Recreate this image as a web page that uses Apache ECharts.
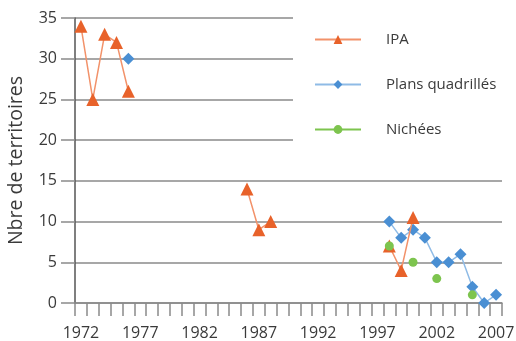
<!DOCTYPE html>
<html><head><meta charset="utf-8">
<script src="https://cdn.jsdelivr.net/npm/echarts@6/dist/echarts.min.js"></script>
<style>html,body{margin:0;padding:0;background:#fff}#c{width:516px;height:341px}</style>
</head><body><div id="c"></div>
<script>
const years = [];
for (let y = 1972; y <= 2007; y++) years.push(String(y));
// values by year (null = no data)
const ipaYears   = [1972,1973,1974,1975,1976,1986,1987,1988,1998,1999,2000];
const ipaValues  = [34,  25,  33,  32,  26,  14,  9,   10,  7,   4,   10.5];
const plansYears  = [1976,1998,1999,2000,2001,2002,2003,2004,2005,2006,2007];
const plansValues = [30,  10,  8,   9,   8,   5,   5,   6,   2,   0,   1];
const nichYears  = [1998,2000,2002,2005];
const nichValues = [7,   5,   3,   1];
const yTicks = [0,5,10,15,20,25,30,35];

function toSeries(ys, vs){
  const arr = years.map(() => null);
  ys.forEach((y,i) => { arr[years.indexOf(String(y))] = vs[i]; });
  return arr;
}
const font = '"Open Sans", sans-serif';
const chart = echarts.init(document.getElementById('c'));
chart.setOption({
  animation:false,
  grid:{left:75,right:14,top:18,bottom:38,outerBoundsMode:'none',containLabel:false},
  xAxis:{type:'category',data:years,boundaryGap:true,
    axisLine:{lineStyle:{color:'#8a8a8a',width:1.5}},
    axisTick:{show:true,interval:0,length:13,lineStyle:{color:'#8a8a8a',width:1.5}},
    axisLabel:{interval:4,margin:22,fontSize:16,color:'#3a3a3a',fontFamily:font},
    splitLine:{show:false}},
  yAxis:{type:'value',min:yTicks[0],max:yTicks[yTicks.length-1],interval:5,
    name:'Nbre de territoires',nameLocation:'middle',nameGap:49,
    nameTextStyle:{fontSize:19.5,color:'#3a3a3a',fontFamily:font},
    axisLine:{show:true,lineStyle:{color:'#555',width:1.5}},
    axisTick:{show:true,length:14,lineStyle:{color:'#8a8a8a',width:1.5}},
    axisLabel:{margin:18,fontSize:16,color:'#3a3a3a',fontFamily:font},
    splitLine:{lineStyle:{color:'#8a8a8a',width:1.5}}},
  legend:{orient:'vertical',left:293,top:5,
    padding:[27,22,32,21],backgroundColor:'#fff',itemGap:30,
    itemWidth:46,itemHeight:11,
    textStyle:{fontSize:15,color:'#3a3a3a',fontFamily:font,padding:[0,0,0,20]},
    data:['IPA','Plans quadrillés','Nichées']},
  series:[
    {name:'IPA',type:'line',data:toSeries(ipaYears,ipaValues),connectNulls:false,
      symbol:'triangle',symbolSize:13,showAllSymbol:true,z:3,
      itemStyle:{color:'#E8622A'},lineStyle:{color:'#F2926A',width:1.5}},
    {name:'Plans quadrillés',type:'line',data:toSeries(plansYears,plansValues),connectNulls:false,
      symbol:'diamond',symbolSize:12,showAllSymbol:true,z:2,
      itemStyle:{color:'#4A8FD3'},lineStyle:{color:'#8FBBE6',width:1.5}},
    {name:'Nichées',type:'line',data:toSeries(nichYears,nichValues),connectNulls:false,
      symbol:'circle',symbolSize:9,showAllSymbol:true,z:4,
      itemStyle:{color:'#7DC44E'},lineStyle:{color:'#7DC44E',width:3}}
  ]
});
</script></body></html>
